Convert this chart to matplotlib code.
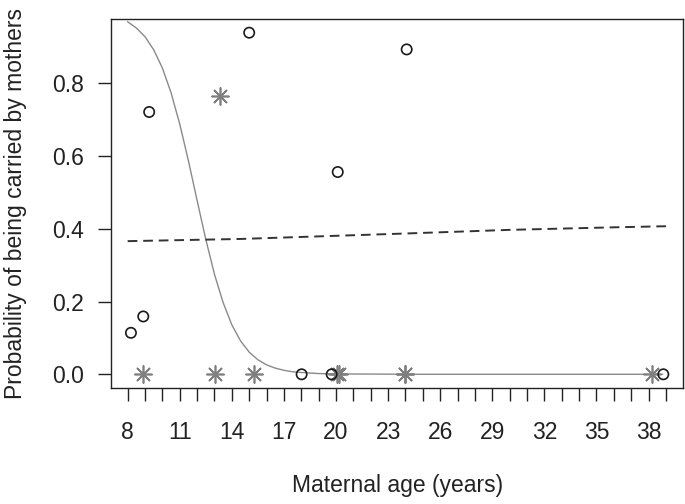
import matplotlib
matplotlib.use("Agg")
import matplotlib.pyplot as plt

# ---- data ----
circle_age = [8.19, 8.9, 9.24, 15.0, 18.02, 19.75, 20.1, 24.07, 38.85]
circle_prob = [0.114, 0.159, 0.721, 0.939, 0.0, 0.0, 0.556, 0.893, 0.0]

star_age = [8.9, 13.03, 13.32, 15.28, 20.05, 20.2, 23.97, 24.0, 38.18]
star_prob = [0.0, 0.0, 0.764, 0.0, 0.0, 0.0, 0.0, 0.0, 0.0]

curve_age = [8.0, 8.5, 9.0, 9.5, 10.0, 10.5, 11.0, 11.5, 12.0, 12.5, 13.0,
             13.5, 14.0, 14.5, 15.0, 15.5, 16.0, 16.5, 17.0, 17.5, 18.0,
             19.0, 20.0, 25.0, 30.0, 35.0, 38.8]
curve_prob = [0.969, 0.952, 0.928, 0.892, 0.842, 0.774, 0.688, 0.587, 0.478,
              0.371, 0.275, 0.197, 0.136, 0.092, 0.061, 0.040, 0.026, 0.017,
              0.011, 0.007, 0.005, 0.002, 0.001, 0.0, 0.0, 0.0, 0.0]

dash_age = [8.0, 14.5, 24.0, 30.0, 36.0, 39.0]
dash_prob = [0.366, 0.372, 0.387, 0.397, 0.404, 0.407]

xtick_pos = list(range(8, 40))
xtick_labels = [str(v) if (v - 8) % 3 == 0 else "" for v in xtick_pos]
ytick_pos = [0.0, 0.2, 0.4, 0.6, 0.8]
ytick_labels = ["0.0", "0.2", "0.4", "0.6", "0.8"]

plt.rcParams['font.family'] = ['Liberation Sans', 'DejaVu Sans']

fig = plt.figure(figsize=(6.85, 5.04), dpi=100)
ax = fig.add_axes([0.162, 0.2302, 0.9975 - 0.162, 0.9623 - 0.2302])

ax.plot(curve_age, curve_prob, color="#8a8a8a", lw=1.0, zorder=2)
ax.plot(dash_age, dash_prob, color="#333333", lw=1.4, dashes=(5, 3), zorder=2)
ax.scatter(star_age, star_prob, marker=(8, 2, 0), s=150, color="#7f7f7f",
           linewidths=1.2, zorder=3)
ax.scatter(circle_age, circle_prob, marker="o", s=55, facecolors="none",
           edgecolors="#1a1a1a", linewidths=1.2, zorder=4)

ax.set_xlim(7.04, 40.0)
ax.set_ylim(-0.0376, 0.9766)

ax.set_xticks(xtick_pos)
ax.set_xticklabels(xtick_labels)
ax.set_yticks(ytick_pos)
ax.set_yticklabels(ytick_labels)

ax.tick_params(axis="both", direction="out", length=9.5, width=1.0,
               color="#222222", labelsize=16.5, labelcolor="#222222")
ax.tick_params(axis="x", pad=14)
ax.tick_params(axis="y", pad=10)

for sp in ax.spines.values():
    sp.set_linewidth(1.0)
    sp.set_color("#222222")

ax.set_xlabel("Maternal age (years)", fontsize=16.5, color="#222222", labelpad=22)
ax.set_ylabel("Probability of being carried by mothers", fontsize=16.5,
              color="#222222", labelpad=18)

fig.savefig("out.png", dpi=100)
